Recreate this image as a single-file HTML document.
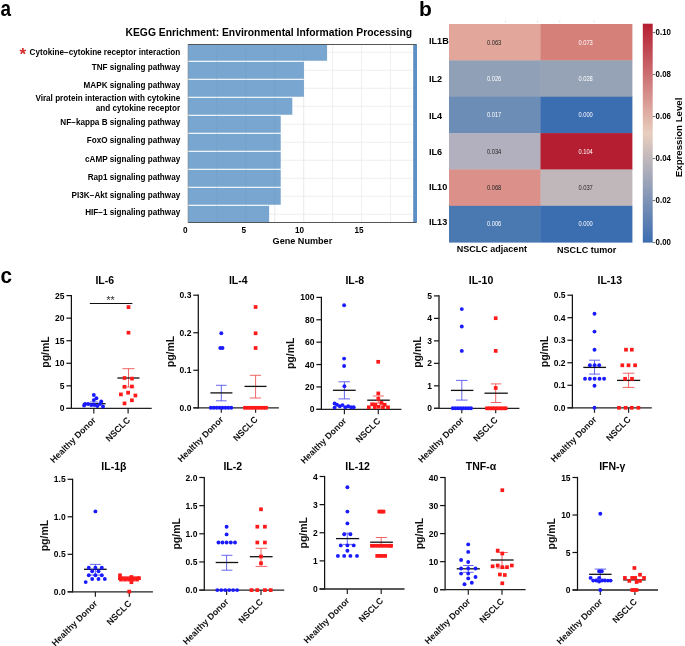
<!DOCTYPE html>
<html><head><meta charset="utf-8"><style>
html,body{margin:0;padding:0;background:#fff;}
svg{display:block;font-family:"Liberation Sans", sans-serif;will-change:transform;}
</style></head><body>
<svg width="685" height="646" viewBox="0 0 685 646">
<rect width="685" height="646" fill="#fff"/>
<text transform="translate(0.6,16) scale(0.86,1)" font-size="22" font-weight="bold">a</text>
<text x="419" y="16" font-size="21" font-weight="bold" text-anchor="start" fill="#000" >b</text>
<text transform="translate(0.5,282.6) scale(0.92,1)" font-size="22.5" font-weight="bold">c</text>
<text x="125.5" y="35.8" font-size="10" font-weight="bold" text-anchor="start" fill="#000" textLength="286.5" lengthAdjust="spacingAndGlyphs">KEGG Enrichment: Environmental Information Processing</text>
<line x1="216.93" y1="44.3" x2="216.93" y2="222.6" stroke="#ebebeb" stroke-width="0.8" />
<line x1="245.86" y1="44.3" x2="245.86" y2="222.6" stroke="#ebebeb" stroke-width="0.8" />
<line x1="274.78999999999996" y1="44.3" x2="274.78999999999996" y2="222.6" stroke="#ebebeb" stroke-width="0.8" />
<line x1="303.72" y1="44.3" x2="303.72" y2="222.6" stroke="#ebebeb" stroke-width="0.8" />
<line x1="332.65" y1="44.3" x2="332.65" y2="222.6" stroke="#ebebeb" stroke-width="0.8" />
<line x1="361.58" y1="44.3" x2="361.58" y2="222.6" stroke="#ebebeb" stroke-width="0.8" />
<line x1="390.51" y1="44.3" x2="390.51" y2="222.6" stroke="#ebebeb" stroke-width="0.8" />
<line x1="188" y1="52.3" x2="416" y2="52.3" stroke="#ebebeb" stroke-width="0.8" />
<line x1="188" y1="70.3" x2="416" y2="70.3" stroke="#ebebeb" stroke-width="0.8" />
<line x1="188" y1="88.3" x2="416" y2="88.3" stroke="#ebebeb" stroke-width="0.8" />
<line x1="188" y1="106.3" x2="416" y2="106.3" stroke="#ebebeb" stroke-width="0.8" />
<line x1="188" y1="124.3" x2="416" y2="124.3" stroke="#ebebeb" stroke-width="0.8" />
<line x1="188" y1="142.3" x2="416" y2="142.3" stroke="#ebebeb" stroke-width="0.8" />
<line x1="188" y1="160.3" x2="416" y2="160.3" stroke="#ebebeb" stroke-width="0.8" />
<line x1="188" y1="178.3" x2="416" y2="178.3" stroke="#ebebeb" stroke-width="0.8" />
<line x1="188" y1="196.3" x2="416" y2="196.3" stroke="#ebebeb" stroke-width="0.8" />
<line x1="188" y1="214.3" x2="416" y2="214.3" stroke="#ebebeb" stroke-width="0.8" />
<rect x="188" y="45.0" width="139.07999999999998" height="15.75" fill="rgb(120,166,208)" />
<rect x="188" y="61.849999999999994" width="115.9" height="16.900000000000006" fill="rgb(120,166,208)" />
<rect x="188" y="79.85" width="115.9" height="16.900000000000006" fill="rgb(120,166,208)" />
<rect x="188" y="97.85" width="104.31" height="16.900000000000006" fill="rgb(120,166,208)" />
<rect x="188" y="115.85" width="92.72" height="16.900000000000006" fill="rgb(120,166,208)" />
<rect x="188" y="133.85000000000002" width="92.72" height="16.899999999999977" fill="rgb(120,166,208)" />
<rect x="188" y="151.85000000000002" width="92.72" height="16.899999999999977" fill="rgb(120,166,208)" />
<rect x="188" y="169.85000000000002" width="92.72" height="16.899999999999977" fill="rgb(120,166,208)" />
<rect x="188" y="187.85000000000002" width="92.72" height="16.899999999999977" fill="rgb(120,166,208)" />
<rect x="188" y="205.85000000000002" width="81.13" height="16.149999999999977" fill="rgb(120,166,208)" />
<line x1="216.93" y1="44.3" x2="216.93" y2="222.6" stroke="rgba(0,0,0,0.035)" stroke-width="0.8" />
<line x1="245.86" y1="44.3" x2="245.86" y2="222.6" stroke="rgba(0,0,0,0.035)" stroke-width="0.8" />
<line x1="274.78999999999996" y1="44.3" x2="274.78999999999996" y2="222.6" stroke="rgba(0,0,0,0.035)" stroke-width="0.8" />
<line x1="303.72" y1="44.3" x2="303.72" y2="222.6" stroke="rgba(0,0,0,0.035)" stroke-width="0.8" />
<rect x="413.2" y="44.3" width="3.8" height="178.3" fill="#5b8fc6" />
<line x1="188" y1="44.5" x2="416.5" y2="44.5" stroke="#555" stroke-width="1" />
<line x1="188" y1="222.5" x2="416.5" y2="222.5" stroke="#555" stroke-width="1" />
<line x1="188" y1="44.3" x2="188" y2="222.6" stroke="#888" stroke-width="0.6" />
<text x="180.2" y="54.7" font-size="8.15" font-weight="bold" text-anchor="end" fill="#000" >Cytokine−cytokine receptor interaction</text>
<text x="180.2" y="69.8" font-size="8.15" font-weight="bold" text-anchor="end" fill="#000" >TNF signaling pathway</text>
<text x="180.2" y="87.6" font-size="8.15" font-weight="bold" text-anchor="end" fill="#000" >MAPK signaling pathway</text>
<text x="180.2" y="101.3" font-size="8.15" font-weight="bold" text-anchor="end" fill="#000" >Viral protein interaction with cytokine</text>
<text x="180.2" y="110.6" font-size="8.15" font-weight="bold" text-anchor="end" fill="#000" >and cytokine receptor</text>
<text x="180.2" y="125.0" font-size="8.15" font-weight="bold" text-anchor="end" fill="#000" >NF−kappa B signaling pathway</text>
<text x="180.2" y="142.6" font-size="8.15" font-weight="bold" text-anchor="end" fill="#000" >FoxO signaling pathway</text>
<text x="180.2" y="162.2" font-size="8.15" font-weight="bold" text-anchor="end" fill="#000" >cAMP signaling pathway</text>
<text x="180.2" y="179.6" font-size="8.15" font-weight="bold" text-anchor="end" fill="#000" >Rap1 signaling pathway</text>
<text x="180.2" y="197.9" font-size="8.15" font-weight="bold" text-anchor="end" fill="#000" >PI3K−Akt signaling pathway</text>
<text x="180.2" y="215.1" font-size="8.15" font-weight="bold" text-anchor="end" fill="#000" >HIF−1 signaling pathway</text>
<text x="22.9" y="59.5" font-size="17" font-weight="bold" text-anchor="middle" fill="#d42a2a" >*</text>
<text x="185.3" y="232.8" font-size="8.2" font-weight="bold" text-anchor="middle" fill="#000" >0</text>
<text x="243.9" y="232.8" font-size="8.2" font-weight="bold" text-anchor="middle" fill="#000" >5</text>
<text x="299.5" y="232.8" font-size="8.2" font-weight="bold" text-anchor="middle" fill="#000" >10</text>
<text x="359" y="232.8" font-size="8.2" font-weight="bold" text-anchor="middle" fill="#000" >15</text>
<text x="302.4" y="244.1" font-size="9.1" font-weight="bold" text-anchor="middle" fill="#000" >Gene Number</text>
<rect x="449.0" y="24.0" width="91.9" height="36.766666666666666" fill="rgb(226,166,154)" />
<text x="494.1" y="44.6" font-size="6.4" text-anchor="middle" fill="#262626" textLength="14.4" lengthAdjust="spacingAndGlyphs">0.063</text>
<rect x="540.5" y="24.0" width="91.9" height="36.766666666666666" fill="rgb(214,128,122)" />
<text x="585.6" y="44.6" font-size="6.4" text-anchor="middle" fill="#ffffff" textLength="14.4" lengthAdjust="spacingAndGlyphs">0.073</text>
<text x="429" y="44.2" font-size="9.1" font-weight="bold" text-anchor="start" fill="#000" >IL1B</text>
<rect x="449.0" y="60.36666666666667" width="91.9" height="36.766666666666666" fill="rgb(143,160,183)" />
<text x="494.1" y="81.0" font-size="6.4" text-anchor="middle" fill="#ffffff" textLength="14.4" lengthAdjust="spacingAndGlyphs">0.026</text>
<rect x="540.5" y="60.36666666666667" width="91.9" height="36.766666666666666" fill="rgb(150,163,183)" />
<text x="585.6" y="81.0" font-size="6.4" text-anchor="middle" fill="#ffffff" textLength="14.4" lengthAdjust="spacingAndGlyphs">0.028</text>
<text x="429" y="81.6" font-size="9.1" font-weight="bold" text-anchor="start" fill="#000" >IL2</text>
<rect x="449.0" y="96.73333333333333" width="91.9" height="36.766666666666666" fill="rgb(108,141,182)" />
<text x="494.1" y="117.3" font-size="6.4" text-anchor="middle" fill="#ffffff" textLength="14.4" lengthAdjust="spacingAndGlyphs">0.017</text>
<rect x="540.5" y="96.73333333333333" width="91.9" height="36.766666666666666" fill="rgb(59,109,177)" />
<text x="585.6" y="117.3" font-size="6.4" text-anchor="middle" fill="#ffffff" textLength="14.4" lengthAdjust="spacingAndGlyphs">0.000</text>
<text x="429" y="118.8" font-size="9.1" font-weight="bold" text-anchor="start" fill="#000" >IL4</text>
<rect x="449.0" y="133.1" width="91.9" height="36.766666666666666" fill="rgb(178,176,190)" />
<text x="494.1" y="153.7" font-size="6.4" text-anchor="middle" fill="#262626" textLength="14.4" lengthAdjust="spacingAndGlyphs">0.034</text>
<rect x="540.5" y="133.1" width="91.9" height="36.766666666666666" fill="rgb(180,30,48)" />
<text x="585.6" y="153.7" font-size="6.4" text-anchor="middle" fill="#ffffff" textLength="14.4" lengthAdjust="spacingAndGlyphs">0.104</text>
<text x="429" y="155.1" font-size="9.1" font-weight="bold" text-anchor="start" fill="#000" >IL6</text>
<rect x="449.0" y="169.46666666666667" width="91.9" height="36.766666666666666" fill="rgb(219,145,138)" />
<text x="494.1" y="190.1" font-size="6.4" text-anchor="middle" fill="#262626" textLength="14.4" lengthAdjust="spacingAndGlyphs">0.068</text>
<rect x="540.5" y="169.46666666666667" width="91.9" height="36.766666666666666" fill="rgb(192,183,187)" />
<text x="585.6" y="190.1" font-size="6.4" text-anchor="middle" fill="#262626" textLength="14.4" lengthAdjust="spacingAndGlyphs">0.037</text>
<text x="429" y="189.7" font-size="9.1" font-weight="bold" text-anchor="start" fill="#000" >IL10</text>
<rect x="449.0" y="205.83333333333334" width="91.9" height="36.766666666666666" fill="rgb(74,121,178)" />
<text x="494.1" y="226.4" font-size="6.4" text-anchor="middle" fill="#ffffff" textLength="14.4" lengthAdjust="spacingAndGlyphs">0.006</text>
<rect x="540.5" y="205.83333333333334" width="91.9" height="36.766666666666666" fill="rgb(59,109,177)" />
<text x="585.6" y="226.4" font-size="6.4" text-anchor="middle" fill="#ffffff" textLength="14.4" lengthAdjust="spacingAndGlyphs">0.000</text>
<text x="429" y="225.0" font-size="9.1" font-weight="bold" text-anchor="start" fill="#000" >IL13</text>
<text x="456.8" y="251.8" font-size="9.2" font-weight="bold" textLength="70.1" lengthAdjust="spacingAndGlyphs">NSCLC adjacent</text>
<text x="557.1" y="252.9" font-size="9.2" font-weight="bold" textLength="59.1" lengthAdjust="spacingAndGlyphs">NSCLC tumor</text>
<line x1="505.5" y1="20.8" x2="505.5" y2="22.2" stroke="#c8c8c8" stroke-width="0.7" />
<line x1="537.5" y1="20.8" x2="537.5" y2="22.2" stroke="#c8c8c8" stroke-width="0.7" />
<line x1="559.8" y1="20.8" x2="559.8" y2="22.2" stroke="#c8c8c8" stroke-width="0.7" />
<line x1="594" y1="20.8" x2="594" y2="22.2" stroke="#c8c8c8" stroke-width="0.7" />
<defs><linearGradient id="cb" x1="0" y1="1" x2="0" y2="0">
<stop offset="0.0000" stop-color="rgb(59,109,177)"/>
<stop offset="0.1248" stop-color="rgb(102,133,180)"/>
<stop offset="0.2495" stop-color="rgb(146,158,184)"/>
<stop offset="0.3743" stop-color="rgb(189,182,187)"/>
<stop offset="0.4990" stop-color="rgb(232,206,190)"/>
<stop offset="0.6238" stop-color="rgb(219,162,154)"/>
<stop offset="0.7486" stop-color="rgb(206,118,119)"/>
<stop offset="0.8733" stop-color="rgb(193,74,84)"/>
<stop offset="1.0000" stop-color="rgb(180,30,48)"/>
</linearGradient></defs>
<rect x="642.8" y="23.7" width="9.900000000000091" height="218.9" fill="url(#cb)" />
<line x1="652.7" y1="242.6" x2="655.2" y2="242.6" stroke="#333" stroke-width="0.7" />
<text x="655.6" y="245.1" font-size="8.2" font-weight="bold" textLength="15.3" lengthAdjust="spacingAndGlyphs">0.00</text>
<line x1="652.7" y1="200.6" x2="655.2" y2="200.6" stroke="#333" stroke-width="0.7" />
<text x="655.6" y="203.1" font-size="8.2" font-weight="bold" textLength="15.3" lengthAdjust="spacingAndGlyphs">0.02</text>
<line x1="652.7" y1="158.6" x2="655.2" y2="158.6" stroke="#333" stroke-width="0.7" />
<text x="655.6" y="161.1" font-size="8.2" font-weight="bold" textLength="15.3" lengthAdjust="spacingAndGlyphs">0.04</text>
<line x1="652.7" y1="116.6" x2="655.2" y2="116.6" stroke="#333" stroke-width="0.7" />
<text x="655.6" y="119.1" font-size="8.2" font-weight="bold" textLength="15.3" lengthAdjust="spacingAndGlyphs">0.06</text>
<line x1="652.7" y1="74.6" x2="655.2" y2="74.6" stroke="#333" stroke-width="0.7" />
<text x="655.6" y="77.1" font-size="8.2" font-weight="bold" textLength="15.3" lengthAdjust="spacingAndGlyphs">0.08</text>
<line x1="652.7" y1="32.599999999999994" x2="655.2" y2="32.599999999999994" stroke="#333" stroke-width="0.7" />
<text x="655.6" y="35.1" font-size="8.2" font-weight="bold" textLength="15.3" lengthAdjust="spacingAndGlyphs">0.10</text>
<text transform="translate(682.3,137.4) rotate(-90)" font-size="9.3" font-weight="bold" text-anchor="middle" textLength="79.6" lengthAdjust="spacingAndGlyphs">Expression Level</text>
<text x="104.8" y="284.3" font-size="10.5" font-weight="bold" text-anchor="middle" fill="#000" >IL-6</text>
<line x1="66.4" y1="295.6" x2="71.4" y2="295.6" stroke="#111" stroke-width="1.2" />
<text x="64.5" y="298.6" font-size="8.5" font-weight="bold" text-anchor="end" fill="#000" >25</text>
<line x1="66.4" y1="318.16" x2="71.4" y2="318.16" stroke="#111" stroke-width="1.2" />
<text x="64.5" y="321.16" font-size="8.5" font-weight="bold" text-anchor="end" fill="#000" >20</text>
<line x1="66.4" y1="340.72" x2="71.4" y2="340.72" stroke="#111" stroke-width="1.2" />
<text x="64.5" y="343.72" font-size="8.5" font-weight="bold" text-anchor="end" fill="#000" >15</text>
<line x1="66.4" y1="363.28" x2="71.4" y2="363.28" stroke="#111" stroke-width="1.2" />
<text x="64.5" y="366.28" font-size="8.5" font-weight="bold" text-anchor="end" fill="#000" >10</text>
<line x1="66.4" y1="385.84" x2="71.4" y2="385.84" stroke="#111" stroke-width="1.2" />
<text x="64.5" y="388.84" font-size="8.5" font-weight="bold" text-anchor="end" fill="#000" >5</text>
<line x1="66.4" y1="408.4" x2="71.4" y2="408.4" stroke="#111" stroke-width="1.2" />
<text x="64.5" y="411.4" font-size="8.5" font-weight="bold" text-anchor="end" fill="#000" >0</text>
<line x1="71.4" y1="295.0" x2="71.4" y2="409.0" stroke="#111" stroke-width="1.25" />
<line x1="66.4" y1="408.4" x2="151.7" y2="408.4" stroke="#222" stroke-width="1.3" />
<line x1="93.8" y1="408.4" x2="93.8" y2="413.4" stroke="#222" stroke-width="1.2" />
<line x1="128.1" y1="408.4" x2="128.1" y2="413.4" stroke="#222" stroke-width="1.2" />
<text transform="translate(49.0,352.0) rotate(-90)" font-size="10.5" font-weight="bold" text-anchor="middle" fill="#111">pg/mL</text>
<text transform="translate(96.39999999999999,420.7) rotate(-45)" font-size="8.85" font-weight="bold" text-anchor="end" fill="#111">Healthy Donor</text>
<text transform="translate(130.7,420.7) rotate(-45)" font-size="8.85" font-weight="bold" text-anchor="end" fill="#111">NSCLC</text>
<line x1="93.8" y1="402" x2="93.8" y2="405" stroke="#5555ee" stroke-width="0.9" />
<line x1="90" y1="402" x2="98" y2="402" stroke="#5555ee" stroke-width="0.9" />
<line x1="90" y1="405" x2="98" y2="405" stroke="#5555ee" stroke-width="0.9" />
<line x1="128.5" y1="368.7" x2="128.5" y2="387" stroke="#ee5555" stroke-width="0.9" />
<line x1="122.4" y1="368.7" x2="134.5" y2="368.7" stroke="#ee5555" stroke-width="0.9" />
<line x1="122.4" y1="387" x2="134.5" y2="387" stroke="#ee5555" stroke-width="0.9" />
<line x1="82.9" y1="403.7" x2="105.6" y2="403.7" stroke="#111" stroke-width="1.3" />
<line x1="117.4" y1="378" x2="139.5" y2="378" stroke="#111" stroke-width="1.3" />
<circle cx="93.8" cy="395" r="1.95" fill="#1a1aff"/>
<circle cx="96.4" cy="398.3" r="1.95" fill="#1a1aff"/>
<circle cx="93.8" cy="400.1" r="1.95" fill="#1a1aff"/>
<circle cx="101.3" cy="401.4" r="1.95" fill="#1a1aff"/>
<circle cx="84.1" cy="405.5" r="1.95" fill="#1a1aff"/>
<circle cx="85.2" cy="404" r="1.95" fill="#1a1aff"/>
<circle cx="88.2" cy="404" r="1.95" fill="#1a1aff"/>
<circle cx="91.3" cy="405" r="1.95" fill="#1a1aff"/>
<circle cx="94.4" cy="405" r="1.95" fill="#1a1aff"/>
<circle cx="97.4" cy="406" r="1.95" fill="#1a1aff"/>
<circle cx="100" cy="404" r="1.95" fill="#1a1aff"/>
<circle cx="103" cy="406.5" r="1.95" fill="#1a1aff"/>
<rect x="126.65" y="305.25" width="3.7" height="3.7" fill="#ff1a1a" />
<rect x="126.65" y="330.84999999999997" width="3.7" height="3.7" fill="#ff1a1a" />
<rect x="122.65" y="376.15" width="3.7" height="3.7" fill="#ff1a1a" />
<rect x="130.15" y="376.75" width="3.7" height="3.7" fill="#ff1a1a" />
<rect x="122.65" y="384.95" width="3.7" height="3.7" fill="#ff1a1a" />
<rect x="130.05" y="384.65" width="3.7" height="3.7" fill="#ff1a1a" />
<rect x="119.05000000000001" y="392.54999999999995" width="3.7" height="3.7" fill="#ff1a1a" />
<rect x="126.25" y="390.84999999999997" width="3.7" height="3.7" fill="#ff1a1a" />
<rect x="133.55" y="393.65" width="3.7" height="3.7" fill="#ff1a1a" />
<rect x="130.05" y="398.45" width="3.7" height="3.7" fill="#ff1a1a" />
<rect x="122.65" y="401.54999999999995" width="3.7" height="3.7" fill="#ff1a1a" />
<text x="238.3" y="284.3" font-size="10.5" font-weight="bold" text-anchor="middle" fill="#000" >IL-4</text>
<line x1="193.3" y1="295.2" x2="198.3" y2="295.2" stroke="#111" stroke-width="1.2" />
<text x="191.4" y="298.2" font-size="8.5" font-weight="bold" text-anchor="end" fill="#000" >0.3</text>
<line x1="193.3" y1="332.73333333333335" x2="198.3" y2="332.73333333333335" stroke="#111" stroke-width="1.2" />
<text x="191.4" y="335.73333333333335" font-size="8.5" font-weight="bold" text-anchor="end" fill="#000" >0.2</text>
<line x1="193.3" y1="370.26666666666665" x2="198.3" y2="370.26666666666665" stroke="#111" stroke-width="1.2" />
<text x="191.4" y="373.26666666666665" font-size="8.5" font-weight="bold" text-anchor="end" fill="#000" >0.1</text>
<line x1="193.3" y1="407.8" x2="198.3" y2="407.8" stroke="#111" stroke-width="1.2" />
<text x="191.4" y="410.8" font-size="8.5" font-weight="bold" text-anchor="end" fill="#000" >0.0</text>
<line x1="198.3" y1="294.59999999999997" x2="198.3" y2="408.40000000000003" stroke="#111" stroke-width="1.25" />
<line x1="193.3" y1="407.8" x2="278.9" y2="407.8" stroke="#222" stroke-width="1.3" />
<line x1="221.3" y1="407.8" x2="221.3" y2="412.8" stroke="#222" stroke-width="1.2" />
<line x1="255.6" y1="407.8" x2="255.6" y2="412.8" stroke="#222" stroke-width="1.2" />
<text transform="translate(173.6,351.5) rotate(-90)" font-size="10.5" font-weight="bold" text-anchor="middle" fill="#111">pg/mL</text>
<text transform="translate(223.9,420.1) rotate(-45)" font-size="8.85" font-weight="bold" text-anchor="end" fill="#111">Healthy Donor</text>
<text transform="translate(258.2,420.1) rotate(-45)" font-size="8.85" font-weight="bold" text-anchor="end" fill="#111">NSCLC</text>
<line x1="221.3" y1="385.3" x2="221.3" y2="400.8" stroke="#5555ee" stroke-width="0.9" />
<line x1="216" y1="385.3" x2="226.6" y2="385.3" stroke="#5555ee" stroke-width="0.9" />
<line x1="216" y1="400.8" x2="226.6" y2="400.8" stroke="#5555ee" stroke-width="0.9" />
<line x1="255.6" y1="375.3" x2="255.6" y2="398" stroke="#ee5555" stroke-width="0.9" />
<line x1="249.8" y1="375.3" x2="261" y2="375.3" stroke="#ee5555" stroke-width="0.9" />
<line x1="249.8" y1="398" x2="261" y2="398" stroke="#ee5555" stroke-width="0.9" />
<line x1="210.4" y1="392.9" x2="232.4" y2="392.9" stroke="#111" stroke-width="1.3" />
<line x1="244.5" y1="386.4" x2="266.5" y2="386.4" stroke="#111" stroke-width="1.3" />
<circle cx="221.3" cy="333.3" r="1.95" fill="#1a1aff"/>
<circle cx="220.3" cy="348" r="1.95" fill="#1a1aff"/>
<circle cx="222.5" cy="348" r="1.95" fill="#1a1aff"/>
<circle cx="210.8" cy="407.8" r="1.95" fill="#1a1aff"/>
<circle cx="213.73000000000002" cy="407.8" r="1.95" fill="#1a1aff"/>
<circle cx="216.66000000000003" cy="407.8" r="1.95" fill="#1a1aff"/>
<circle cx="219.59" cy="407.8" r="1.95" fill="#1a1aff"/>
<circle cx="222.52" cy="407.8" r="1.95" fill="#1a1aff"/>
<circle cx="225.45000000000002" cy="407.8" r="1.95" fill="#1a1aff"/>
<circle cx="228.38000000000002" cy="407.8" r="1.95" fill="#1a1aff"/>
<circle cx="231.31" cy="407.8" r="1.95" fill="#1a1aff"/>
<rect x="253.75" y="305.15" width="3.7" height="3.7" fill="#ff1a1a" />
<rect x="253.75" y="331.45" width="3.7" height="3.7" fill="#ff1a1a" />
<rect x="253.75" y="346.15" width="3.7" height="3.7" fill="#ff1a1a" />
<rect x="243.15" y="405.95" width="3.7" height="3.7" fill="#ff1a1a" />
<rect x="246.15" y="405.95" width="3.7" height="3.7" fill="#ff1a1a" />
<rect x="249.15" y="405.95" width="3.7" height="3.7" fill="#ff1a1a" />
<rect x="252.15" y="405.95" width="3.7" height="3.7" fill="#ff1a1a" />
<rect x="255.15" y="405.95" width="3.7" height="3.7" fill="#ff1a1a" />
<rect x="258.15" y="405.95" width="3.7" height="3.7" fill="#ff1a1a" />
<rect x="261.15" y="405.95" width="3.7" height="3.7" fill="#ff1a1a" />
<rect x="264.15" y="405.95" width="3.7" height="3.7" fill="#ff1a1a" />
<text x="354.8" y="284.3" font-size="10.5" font-weight="bold" text-anchor="middle" fill="#000" >IL-8</text>
<line x1="316.4" y1="297.4" x2="321.4" y2="297.4" stroke="#111" stroke-width="1.2" />
<text x="314.5" y="300.4" font-size="8.5" font-weight="bold" text-anchor="end" fill="#000" >100</text>
<line x1="316.4" y1="319.78" x2="321.4" y2="319.78" stroke="#111" stroke-width="1.2" />
<text x="314.5" y="322.78" font-size="8.5" font-weight="bold" text-anchor="end" fill="#000" >80</text>
<line x1="316.4" y1="342.15999999999997" x2="321.4" y2="342.15999999999997" stroke="#111" stroke-width="1.2" />
<text x="314.5" y="345.15999999999997" font-size="8.5" font-weight="bold" text-anchor="end" fill="#000" >60</text>
<line x1="316.4" y1="364.53999999999996" x2="321.4" y2="364.53999999999996" stroke="#111" stroke-width="1.2" />
<text x="314.5" y="367.53999999999996" font-size="8.5" font-weight="bold" text-anchor="end" fill="#000" >40</text>
<line x1="316.4" y1="386.92" x2="321.4" y2="386.92" stroke="#111" stroke-width="1.2" />
<text x="314.5" y="389.92" font-size="8.5" font-weight="bold" text-anchor="end" fill="#000" >20</text>
<line x1="316.4" y1="409.3" x2="321.4" y2="409.3" stroke="#111" stroke-width="1.2" />
<text x="314.5" y="412.3" font-size="8.5" font-weight="bold" text-anchor="end" fill="#000" >0</text>
<line x1="321.4" y1="296.79999999999995" x2="321.4" y2="409.90000000000003" stroke="#111" stroke-width="1.25" />
<line x1="316.4" y1="409.3" x2="401.4" y2="409.3" stroke="#222" stroke-width="1.3" />
<line x1="344.4" y1="409.3" x2="344.4" y2="414.3" stroke="#222" stroke-width="1.2" />
<line x1="378.3" y1="409.3" x2="378.3" y2="414.3" stroke="#222" stroke-width="1.2" />
<text transform="translate(294.3,353.35) rotate(-90)" font-size="10.5" font-weight="bold" text-anchor="middle" fill="#111">pg/mL</text>
<text transform="translate(347.0,421.6) rotate(-45)" font-size="8.85" font-weight="bold" text-anchor="end" fill="#111">Healthy Donor</text>
<text transform="translate(380.90000000000003,421.6) rotate(-45)" font-size="8.85" font-weight="bold" text-anchor="end" fill="#111">NSCLC</text>
<line x1="344.4" y1="381.8" x2="344.4" y2="398.9" stroke="#5555ee" stroke-width="0.9" />
<line x1="338.4" y1="381.8" x2="350" y2="381.8" stroke="#5555ee" stroke-width="0.9" />
<line x1="338.4" y1="398.9" x2="350" y2="398.9" stroke="#5555ee" stroke-width="0.9" />
<line x1="378.3" y1="396" x2="378.3" y2="403" stroke="#ee5555" stroke-width="0.9" />
<line x1="372.8" y1="396" x2="383.8" y2="396" stroke="#ee5555" stroke-width="0.9" />
<line x1="372.8" y1="403" x2="383.8" y2="403" stroke="#ee5555" stroke-width="0.9" />
<line x1="332.9" y1="390.3" x2="355.7" y2="390.3" stroke="#111" stroke-width="1.3" />
<line x1="367.2" y1="400.2" x2="389.8" y2="400.2" stroke="#111" stroke-width="1.3" />
<circle cx="344.1" cy="305.2" r="1.95" fill="#1a1aff"/>
<circle cx="344.1" cy="358.6" r="1.95" fill="#1a1aff"/>
<circle cx="344.1" cy="366" r="1.95" fill="#1a1aff"/>
<circle cx="344.4" cy="386.3" r="1.95" fill="#1a1aff"/>
<circle cx="334.6" cy="403.5" r="1.95" fill="#1a1aff"/>
<circle cx="337" cy="404.8" r="1.95" fill="#1a1aff"/>
<circle cx="339.8" cy="406.2" r="1.95" fill="#1a1aff"/>
<circle cx="342.5" cy="405.1" r="1.95" fill="#1a1aff"/>
<circle cx="345.3" cy="407.3" r="1.95" fill="#1a1aff"/>
<circle cx="348.2" cy="406.2" r="1.95" fill="#1a1aff"/>
<circle cx="351.1" cy="407.3" r="1.95" fill="#1a1aff"/>
<circle cx="353.7" cy="407.3" r="1.95" fill="#1a1aff"/>
<circle cx="334.6" cy="407.6" r="1.95" fill="#1a1aff"/>
<rect x="376.34999999999997" y="359.95" width="3.7" height="3.7" fill="#ff1a1a" />
<rect x="376.45" y="391.54999999999995" width="3.7" height="3.7" fill="#ff1a1a" />
<rect x="376.45" y="397.04999999999995" width="3.7" height="3.7" fill="#ff1a1a" />
<rect x="370.25" y="402.45" width="3.7" height="3.7" fill="#ff1a1a" />
<rect x="373.54999999999995" y="402.95" width="3.7" height="3.7" fill="#ff1a1a" />
<rect x="379.54999999999995" y="401.04999999999995" width="3.7" height="3.7" fill="#ff1a1a" />
<rect x="382.84999999999997" y="402.95" width="3.7" height="3.7" fill="#ff1a1a" />
<rect x="366.95" y="405.45" width="3.7" height="3.7" fill="#ff1a1a" />
<rect x="376.84999999999997" y="404.95" width="3.7" height="3.7" fill="#ff1a1a" />
<rect x="386.15" y="405.45" width="3.7" height="3.7" fill="#ff1a1a" />
<rect x="372.95" y="405.45" width="3.7" height="3.7" fill="#ff1a1a" />
<rect x="381.15" y="405.45" width="3.7" height="3.7" fill="#ff1a1a" />
<text x="481" y="284.3" font-size="10.5" font-weight="bold" text-anchor="middle" fill="#000" >IL-10</text>
<line x1="434" y1="295.9" x2="439" y2="295.9" stroke="#111" stroke-width="1.2" />
<text x="432.1" y="298.9" font-size="8.5" font-weight="bold" text-anchor="end" fill="#000" >5</text>
<line x1="434" y1="318.38" x2="439" y2="318.38" stroke="#111" stroke-width="1.2" />
<text x="432.1" y="321.38" font-size="8.5" font-weight="bold" text-anchor="end" fill="#000" >4</text>
<line x1="434" y1="340.86" x2="439" y2="340.86" stroke="#111" stroke-width="1.2" />
<text x="432.1" y="343.86" font-size="8.5" font-weight="bold" text-anchor="end" fill="#000" >3</text>
<line x1="434" y1="363.34000000000003" x2="439" y2="363.34000000000003" stroke="#111" stroke-width="1.2" />
<text x="432.1" y="366.34000000000003" font-size="8.5" font-weight="bold" text-anchor="end" fill="#000" >2</text>
<line x1="434" y1="385.82" x2="439" y2="385.82" stroke="#111" stroke-width="1.2" />
<text x="432.1" y="388.82" font-size="8.5" font-weight="bold" text-anchor="end" fill="#000" >1</text>
<line x1="434" y1="408.3" x2="439" y2="408.3" stroke="#111" stroke-width="1.2" />
<text x="432.1" y="411.3" font-size="8.5" font-weight="bold" text-anchor="end" fill="#000" >0</text>
<line x1="439" y1="295.29999999999995" x2="439" y2="408.90000000000003" stroke="#111" stroke-width="1.25" />
<line x1="434" y1="408.3" x2="519.4" y2="408.3" stroke="#222" stroke-width="1.3" />
<line x1="461.8" y1="408.3" x2="461.8" y2="413.3" stroke="#222" stroke-width="1.2" />
<line x1="495.7" y1="408.3" x2="495.7" y2="413.3" stroke="#222" stroke-width="1.2" />
<text transform="translate(421.4,352.1) rotate(-90)" font-size="10.5" font-weight="bold" text-anchor="middle" fill="#111">pg/mL</text>
<text transform="translate(464.40000000000003,420.6) rotate(-45)" font-size="8.85" font-weight="bold" text-anchor="end" fill="#111">Healthy Donor</text>
<text transform="translate(498.3,420.6) rotate(-45)" font-size="8.85" font-weight="bold" text-anchor="end" fill="#111">NSCLC</text>
<line x1="461.8" y1="380.4" x2="461.8" y2="400.1" stroke="#5555ee" stroke-width="0.9" />
<line x1="456" y1="380.4" x2="467.6" y2="380.4" stroke="#5555ee" stroke-width="0.9" />
<line x1="456" y1="400.1" x2="467.6" y2="400.1" stroke="#5555ee" stroke-width="0.9" />
<line x1="495.7" y1="383.9" x2="495.7" y2="402.5" stroke="#ee5555" stroke-width="0.9" />
<line x1="490.8" y1="383.9" x2="501.3" y2="383.9" stroke="#ee5555" stroke-width="0.9" />
<line x1="490.8" y1="402.5" x2="501.3" y2="402.5" stroke="#ee5555" stroke-width="0.9" />
<line x1="450.9" y1="390.4" x2="473.4" y2="390.4" stroke="#111" stroke-width="1.3" />
<line x1="484.5" y1="393.2" x2="507.8" y2="393.2" stroke="#111" stroke-width="1.3" />
<circle cx="461.8" cy="309.1" r="1.95" fill="#1a1aff"/>
<circle cx="461.8" cy="326.5" r="1.95" fill="#1a1aff"/>
<circle cx="461.8" cy="350.9" r="1.95" fill="#1a1aff"/>
<circle cx="452.8" cy="408.3" r="1.95" fill="#1a1aff"/>
<circle cx="455.40000000000003" cy="408.3" r="1.95" fill="#1a1aff"/>
<circle cx="458.0" cy="408.3" r="1.95" fill="#1a1aff"/>
<circle cx="460.6" cy="408.3" r="1.95" fill="#1a1aff"/>
<circle cx="463.2" cy="408.3" r="1.95" fill="#1a1aff"/>
<circle cx="465.8" cy="408.3" r="1.95" fill="#1a1aff"/>
<circle cx="468.40000000000003" cy="408.3" r="1.95" fill="#1a1aff"/>
<circle cx="471.0" cy="408.3" r="1.95" fill="#1a1aff"/>
<rect x="493.84999999999997" y="316.34999999999997" width="3.7" height="3.7" fill="#ff1a1a" />
<rect x="493.84999999999997" y="349.04999999999995" width="3.7" height="3.7" fill="#ff1a1a" />
<rect x="493.84999999999997" y="386.15" width="3.7" height="3.7" fill="#ff1a1a" />
<rect x="485.15" y="406.45" width="3.7" height="3.7" fill="#ff1a1a" />
<rect x="487.81" y="406.45" width="3.7" height="3.7" fill="#ff1a1a" />
<rect x="490.46999999999997" y="406.45" width="3.7" height="3.7" fill="#ff1a1a" />
<rect x="493.13" y="406.45" width="3.7" height="3.7" fill="#ff1a1a" />
<rect x="495.78999999999996" y="406.45" width="3.7" height="3.7" fill="#ff1a1a" />
<rect x="498.45" y="406.45" width="3.7" height="3.7" fill="#ff1a1a" />
<rect x="501.10999999999996" y="406.45" width="3.7" height="3.7" fill="#ff1a1a" />
<rect x="503.77" y="406.45" width="3.7" height="3.7" fill="#ff1a1a" />
<text x="609.8" y="284.3" font-size="10.5" font-weight="bold" text-anchor="middle" fill="#000" >IL-13</text>
<line x1="567.4" y1="295.2" x2="572.4" y2="295.2" stroke="#111" stroke-width="1.2" />
<text x="565.5" y="298.2" font-size="8.5" font-weight="bold" text-anchor="end" fill="#000" >0.5</text>
<line x1="567.4" y1="317.71999999999997" x2="572.4" y2="317.71999999999997" stroke="#111" stroke-width="1.2" />
<text x="565.5" y="320.71999999999997" font-size="8.5" font-weight="bold" text-anchor="end" fill="#000" >0.4</text>
<line x1="567.4" y1="340.24" x2="572.4" y2="340.24" stroke="#111" stroke-width="1.2" />
<text x="565.5" y="343.24" font-size="8.5" font-weight="bold" text-anchor="end" fill="#000" >0.3</text>
<line x1="567.4" y1="362.76" x2="572.4" y2="362.76" stroke="#111" stroke-width="1.2" />
<text x="565.5" y="365.76" font-size="8.5" font-weight="bold" text-anchor="end" fill="#000" >0.2</text>
<line x1="567.4" y1="385.28" x2="572.4" y2="385.28" stroke="#111" stroke-width="1.2" />
<text x="565.5" y="388.28" font-size="8.5" font-weight="bold" text-anchor="end" fill="#000" >0.1</text>
<line x1="567.4" y1="407.8" x2="572.4" y2="407.8" stroke="#111" stroke-width="1.2" />
<text x="565.5" y="410.8" font-size="8.5" font-weight="bold" text-anchor="end" fill="#000" >0.0</text>
<line x1="572.4" y1="294.59999999999997" x2="572.4" y2="408.40000000000003" stroke="#111" stroke-width="1.25" />
<line x1="567.4" y1="407.8" x2="651.8" y2="407.8" stroke="#222" stroke-width="1.3" />
<line x1="594.5" y1="407.8" x2="594.5" y2="412.8" stroke="#222" stroke-width="1.2" />
<line x1="628.6" y1="407.8" x2="628.6" y2="412.8" stroke="#222" stroke-width="1.2" />
<text transform="translate(547.7,351.5) rotate(-90)" font-size="10.5" font-weight="bold" text-anchor="middle" fill="#111">pg/mL</text>
<text transform="translate(597.1,420.1) rotate(-45)" font-size="8.85" font-weight="bold" text-anchor="end" fill="#111">Healthy Donor</text>
<text transform="translate(631.2,420.1) rotate(-45)" font-size="8.85" font-weight="bold" text-anchor="end" fill="#111">NSCLC</text>
<line x1="594.5" y1="360.2" x2="594.5" y2="374.1" stroke="#5555ee" stroke-width="0.9" />
<line x1="589" y1="360.2" x2="600" y2="360.2" stroke="#5555ee" stroke-width="0.9" />
<line x1="589" y1="374.1" x2="600" y2="374.1" stroke="#5555ee" stroke-width="0.9" />
<line x1="628.6" y1="373.2" x2="628.6" y2="387.4" stroke="#ee5555" stroke-width="0.9" />
<line x1="622.8" y1="373.2" x2="634.4" y2="373.2" stroke="#ee5555" stroke-width="0.9" />
<line x1="622.8" y1="387.4" x2="634.4" y2="387.4" stroke="#ee5555" stroke-width="0.9" />
<line x1="583.3" y1="367.4" x2="606" y2="367.4" stroke="#111" stroke-width="1.3" />
<line x1="617" y1="380.4" x2="640.2" y2="380.4" stroke="#111" stroke-width="1.3" />
<circle cx="594.5" cy="313.8" r="1.95" fill="#1a1aff"/>
<circle cx="594.5" cy="331.6" r="1.95" fill="#1a1aff"/>
<circle cx="594.5" cy="349.7" r="1.95" fill="#1a1aff"/>
<circle cx="589.9" cy="365.3" r="1.95" fill="#1a1aff"/>
<circle cx="594.6" cy="365.3" r="1.95" fill="#1a1aff"/>
<circle cx="599.2" cy="365.3" r="1.95" fill="#1a1aff"/>
<circle cx="585" cy="378.8" r="1.95" fill="#1a1aff"/>
<circle cx="589.9" cy="378.8" r="1.95" fill="#1a1aff"/>
<circle cx="594.6" cy="378.8" r="1.95" fill="#1a1aff"/>
<circle cx="599.5" cy="378.8" r="1.95" fill="#1a1aff"/>
<circle cx="604.1" cy="378.8" r="1.95" fill="#1a1aff"/>
<circle cx="594.5" cy="385.7" r="1.95" fill="#1a1aff"/>
<circle cx="594.5" cy="407.8" r="1.95" fill="#1a1aff"/>
<rect x="624.15" y="347.84999999999997" width="3.7" height="3.7" fill="#ff1a1a" />
<rect x="629.9499999999999" y="347.84999999999997" width="3.7" height="3.7" fill="#ff1a1a" />
<rect x="620.4499999999999" y="363.45" width="3.7" height="3.7" fill="#ff1a1a" />
<rect x="626.65" y="363.45" width="3.7" height="3.7" fill="#ff1a1a" />
<rect x="633.25" y="363.45" width="3.7" height="3.7" fill="#ff1a1a" />
<rect x="623.25" y="376.95" width="3.7" height="3.7" fill="#ff1a1a" />
<rect x="630.15" y="376.95" width="3.7" height="3.7" fill="#ff1a1a" />
<rect x="617.15" y="405.95" width="3.7" height="3.7" fill="#ff1a1a" />
<rect x="623.75" y="405.95" width="3.7" height="3.7" fill="#ff1a1a" />
<rect x="629.9499999999999" y="405.95" width="3.7" height="3.7" fill="#ff1a1a" />
<rect x="636.55" y="405.95" width="3.7" height="3.7" fill="#ff1a1a" />
<text x="113.9" y="469.6" font-size="10.5" font-weight="bold" text-anchor="middle" fill="#000" >IL-1β</text>
<line x1="67.6" y1="479.3" x2="72.6" y2="479.3" stroke="#111" stroke-width="1.2" />
<text x="65.69999999999999" y="482.3" font-size="8.5" font-weight="bold" text-anchor="end" fill="#000" >1.5</text>
<line x1="67.6" y1="516.8" x2="72.6" y2="516.8" stroke="#111" stroke-width="1.2" />
<text x="65.69999999999999" y="519.8" font-size="8.5" font-weight="bold" text-anchor="end" fill="#000" >1.0</text>
<line x1="67.6" y1="554.3" x2="72.6" y2="554.3" stroke="#111" stroke-width="1.2" />
<text x="65.69999999999999" y="557.3" font-size="8.5" font-weight="bold" text-anchor="end" fill="#000" >0.5</text>
<line x1="67.6" y1="591.8" x2="72.6" y2="591.8" stroke="#111" stroke-width="1.2" />
<text x="65.69999999999999" y="594.8" font-size="8.5" font-weight="bold" text-anchor="end" fill="#000" >0.0</text>
<line x1="72.6" y1="478.7" x2="72.6" y2="592.4" stroke="#111" stroke-width="1.25" />
<line x1="67.6" y1="591.8" x2="152.9" y2="591.8" stroke="#222" stroke-width="1.3" />
<line x1="95.4" y1="591.8" x2="95.4" y2="596.8" stroke="#222" stroke-width="1.2" />
<line x1="129.3" y1="591.8" x2="129.3" y2="596.8" stroke="#222" stroke-width="1.2" />
<text transform="translate(47.9,535.55) rotate(-90)" font-size="10.5" font-weight="bold" text-anchor="middle" fill="#111">pg/mL</text>
<text transform="translate(98.0,604.0999999999999) rotate(-45)" font-size="8.85" font-weight="bold" text-anchor="end" fill="#111">Healthy Donor</text>
<text transform="translate(131.9,604.0999999999999) rotate(-45)" font-size="8.85" font-weight="bold" text-anchor="end" fill="#111">NSCLC</text>
<line x1="95.4" y1="564.4" x2="95.4" y2="575" stroke="#5555ee" stroke-width="0.9" />
<line x1="89.8" y1="564.4" x2="100.8" y2="564.4" stroke="#5555ee" stroke-width="0.9" />
<line x1="89.8" y1="575" x2="100.8" y2="575" stroke="#5555ee" stroke-width="0.9" />
<line x1="84" y1="569.3" x2="106.7" y2="569.3" stroke="#111" stroke-width="1.3" />
<line x1="118" y1="578.8" x2="140" y2="578.8" stroke="#111" stroke-width="1.3" />
<circle cx="95.4" cy="511.4" r="1.95" fill="#1a1aff"/>
<circle cx="88.8" cy="567.8" r="1.95" fill="#1a1aff"/>
<circle cx="95.4" cy="567.8" r="1.95" fill="#1a1aff"/>
<circle cx="101.8" cy="567.8" r="1.95" fill="#1a1aff"/>
<circle cx="92.2" cy="571.3" r="1.95" fill="#1a1aff"/>
<circle cx="98.5" cy="571.3" r="1.95" fill="#1a1aff"/>
<circle cx="88.8" cy="575.2" r="1.95" fill="#1a1aff"/>
<circle cx="95.4" cy="575.2" r="1.95" fill="#1a1aff"/>
<circle cx="101.8" cy="575.2" r="1.95" fill="#1a1aff"/>
<circle cx="92.2" cy="579" r="1.95" fill="#1a1aff"/>
<circle cx="98.5" cy="579" r="1.95" fill="#1a1aff"/>
<circle cx="104.8" cy="579" r="1.95" fill="#1a1aff"/>
<circle cx="85.7" cy="582.1" r="1.95" fill="#1a1aff"/>
<rect x="118.15" y="573.4499999999999" width="3.7" height="3.7" fill="#ff1a1a" />
<rect x="118.15" y="576.35" width="3.7" height="3.7" fill="#ff1a1a" />
<rect x="121.65" y="576.35" width="3.7" height="3.7" fill="#ff1a1a" />
<rect x="125.15" y="576.35" width="3.7" height="3.7" fill="#ff1a1a" />
<rect x="128.65" y="576.35" width="3.7" height="3.7" fill="#ff1a1a" />
<rect x="132.15" y="576.35" width="3.7" height="3.7" fill="#ff1a1a" />
<rect x="135.65" y="576.35" width="3.7" height="3.7" fill="#ff1a1a" />
<rect x="137.15" y="576.35" width="3.7" height="3.7" fill="#ff1a1a" />
<rect x="119.15" y="577.75" width="3.7" height="3.7" fill="#ff1a1a" />
<rect x="123.15" y="577.75" width="3.7" height="3.7" fill="#ff1a1a" />
<rect x="127.15" y="577.75" width="3.7" height="3.7" fill="#ff1a1a" />
<rect x="131.15" y="577.75" width="3.7" height="3.7" fill="#ff1a1a" />
<rect x="135.15" y="577.75" width="3.7" height="3.7" fill="#ff1a1a" />
<rect x="129.55" y="575.15" width="3.7" height="3.7" fill="#ff1a1a" />
<rect x="129.55" y="580.35" width="3.7" height="3.7" fill="#ff1a1a" />
<rect x="127.35" y="589.75" width="3.7" height="3.7" fill="#ff1a1a" />
<text x="232.8" y="469.6" font-size="10.5" font-weight="bold" text-anchor="middle" fill="#000" >IL-2</text>
<line x1="199.3" y1="477.5" x2="204.3" y2="477.5" stroke="#111" stroke-width="1.2" />
<text x="197.4" y="480.5" font-size="8.5" font-weight="bold" text-anchor="end" fill="#000" >2.0</text>
<line x1="199.3" y1="505.65" x2="204.3" y2="505.65" stroke="#111" stroke-width="1.2" />
<text x="197.4" y="508.65" font-size="8.5" font-weight="bold" text-anchor="end" fill="#000" >1.5</text>
<line x1="199.3" y1="533.8" x2="204.3" y2="533.8" stroke="#111" stroke-width="1.2" />
<text x="197.4" y="536.8" font-size="8.5" font-weight="bold" text-anchor="end" fill="#000" >1.0</text>
<line x1="199.3" y1="561.95" x2="204.3" y2="561.95" stroke="#111" stroke-width="1.2" />
<text x="197.4" y="564.95" font-size="8.5" font-weight="bold" text-anchor="end" fill="#000" >0.5</text>
<line x1="199.3" y1="590.1" x2="204.3" y2="590.1" stroke="#111" stroke-width="1.2" />
<text x="197.4" y="593.1" font-size="8.5" font-weight="bold" text-anchor="end" fill="#000" >0.0</text>
<line x1="204.3" y1="476.9" x2="204.3" y2="590.7" stroke="#111" stroke-width="1.25" />
<line x1="199.3" y1="590.1" x2="284.2" y2="590.1" stroke="#222" stroke-width="1.3" />
<line x1="226.6" y1="590.1" x2="226.6" y2="595.1" stroke="#222" stroke-width="1.2" />
<line x1="261" y1="590.1" x2="261" y2="595.1" stroke="#222" stroke-width="1.2" />
<text transform="translate(179.6,533.8) rotate(-90)" font-size="10.5" font-weight="bold" text-anchor="middle" fill="#111">pg/mL</text>
<text transform="translate(229.2,602.4) rotate(-45)" font-size="8.85" font-weight="bold" text-anchor="end" fill="#111">Healthy Donor</text>
<text transform="translate(263.6,602.4) rotate(-45)" font-size="8.85" font-weight="bold" text-anchor="end" fill="#111">NSCLC</text>
<line x1="226.6" y1="555.3" x2="226.6" y2="570.2" stroke="#5555ee" stroke-width="0.9" />
<line x1="221.5" y1="555.3" x2="232.4" y2="555.3" stroke="#5555ee" stroke-width="0.9" />
<line x1="221.5" y1="570.2" x2="232.4" y2="570.2" stroke="#5555ee" stroke-width="0.9" />
<line x1="261" y1="548.3" x2="261" y2="566.4" stroke="#ee5555" stroke-width="0.9" />
<line x1="255.6" y1="548.3" x2="267.2" y2="548.3" stroke="#ee5555" stroke-width="0.9" />
<line x1="255.6" y1="566.4" x2="267.2" y2="566.4" stroke="#ee5555" stroke-width="0.9" />
<line x1="215.7" y1="562.5" x2="238.2" y2="562.5" stroke="#111" stroke-width="1.3" />
<line x1="249.8" y1="556.7" x2="272.6" y2="556.7" stroke="#111" stroke-width="1.3" />
<circle cx="226.6" cy="526.7" r="1.95" fill="#1a1aff"/>
<circle cx="226.6" cy="534.4" r="1.95" fill="#1a1aff"/>
<circle cx="218.5" cy="542.5" r="1.95" fill="#1a1aff"/>
<circle cx="222.5" cy="542.5" r="1.95" fill="#1a1aff"/>
<circle cx="226.6" cy="542.5" r="1.95" fill="#1a1aff"/>
<circle cx="230.8" cy="542.5" r="1.95" fill="#1a1aff"/>
<circle cx="235" cy="542.5" r="1.95" fill="#1a1aff"/>
<circle cx="217.3" cy="590.1" r="1.95" fill="#1a1aff"/>
<circle cx="221.26000000000002" cy="590.1" r="1.95" fill="#1a1aff"/>
<circle cx="225.22" cy="590.1" r="1.95" fill="#1a1aff"/>
<circle cx="229.18" cy="590.1" r="1.95" fill="#1a1aff"/>
<circle cx="233.14000000000001" cy="590.1" r="1.95" fill="#1a1aff"/>
<circle cx="237.10000000000002" cy="590.1" r="1.95" fill="#1a1aff"/>
<rect x="259.15" y="507.45" width="3.7" height="3.7" fill="#ff1a1a" />
<rect x="255.45000000000002" y="524.85" width="3.7" height="3.7" fill="#ff1a1a" />
<rect x="263.04999999999995" y="524.85" width="3.7" height="3.7" fill="#ff1a1a" />
<rect x="255.45000000000002" y="540.65" width="3.7" height="3.7" fill="#ff1a1a" />
<rect x="263.04999999999995" y="540.65" width="3.7" height="3.7" fill="#ff1a1a" />
<rect x="259.15" y="554.65" width="3.7" height="3.7" fill="#ff1a1a" />
<rect x="259.15" y="561.35" width="3.7" height="3.7" fill="#ff1a1a" />
<rect x="249.65" y="588.25" width="3.7" height="3.7" fill="#ff1a1a" />
<rect x="255.45000000000002" y="588.25" width="3.7" height="3.7" fill="#ff1a1a" />
<rect x="263.04999999999995" y="588.25" width="3.7" height="3.7" fill="#ff1a1a" />
<rect x="268.84999999999997" y="588.25" width="3.7" height="3.7" fill="#ff1a1a" />
<text x="357.6" y="469.6" font-size="10.5" font-weight="bold" text-anchor="middle" fill="#000" >IL-12</text>
<line x1="319.6" y1="476.5" x2="324.6" y2="476.5" stroke="#111" stroke-width="1.2" />
<text x="317.70000000000005" y="479.5" font-size="8.5" font-weight="bold" text-anchor="end" fill="#000" >4</text>
<line x1="319.6" y1="504.625" x2="324.6" y2="504.625" stroke="#111" stroke-width="1.2" />
<text x="317.70000000000005" y="507.625" font-size="8.5" font-weight="bold" text-anchor="end" fill="#000" >3</text>
<line x1="319.6" y1="532.75" x2="324.6" y2="532.75" stroke="#111" stroke-width="1.2" />
<text x="317.70000000000005" y="535.75" font-size="8.5" font-weight="bold" text-anchor="end" fill="#000" >2</text>
<line x1="319.6" y1="560.875" x2="324.6" y2="560.875" stroke="#111" stroke-width="1.2" />
<text x="317.70000000000005" y="563.875" font-size="8.5" font-weight="bold" text-anchor="end" fill="#000" >1</text>
<line x1="319.6" y1="589.0" x2="324.6" y2="589.0" stroke="#111" stroke-width="1.2" />
<text x="317.70000000000005" y="592.0" font-size="8.5" font-weight="bold" text-anchor="end" fill="#000" >0</text>
<line x1="324.6" y1="475.9" x2="324.6" y2="589.6" stroke="#111" stroke-width="1.25" />
<line x1="319.6" y1="589" x2="404.5" y2="589" stroke="#222" stroke-width="1.3" />
<line x1="347.3" y1="589" x2="347.3" y2="594" stroke="#222" stroke-width="1.2" />
<line x1="381.2" y1="589" x2="381.2" y2="594" stroke="#222" stroke-width="1.2" />
<text transform="translate(307.0,532.75) rotate(-90)" font-size="10.5" font-weight="bold" text-anchor="middle" fill="#111">pg/mL</text>
<text transform="translate(349.90000000000003,601.3) rotate(-45)" font-size="8.85" font-weight="bold" text-anchor="end" fill="#111">Healthy Donor</text>
<text transform="translate(383.8,601.3) rotate(-45)" font-size="8.85" font-weight="bold" text-anchor="end" fill="#111">NSCLC</text>
<line x1="347.3" y1="533.2" x2="347.3" y2="544.4" stroke="#5555ee" stroke-width="0.9" />
<line x1="343" y1="533.2" x2="352" y2="533.2" stroke="#5555ee" stroke-width="0.9" />
<line x1="343" y1="544.4" x2="352" y2="544.4" stroke="#5555ee" stroke-width="0.9" />
<line x1="381.2" y1="537.5" x2="381.2" y2="546" stroke="#ee5555" stroke-width="0.9" />
<line x1="375.8" y1="537.5" x2="387" y2="537.5" stroke="#ee5555" stroke-width="0.9" />
<line x1="375.8" y1="546" x2="387" y2="546" stroke="#ee5555" stroke-width="0.9" />
<line x1="336" y1="538.6" x2="359.2" y2="538.6" stroke="#111" stroke-width="1.3" />
<line x1="370.1" y1="542.2" x2="392.9" y2="542.2" stroke="#111" stroke-width="1.3" />
<circle cx="347.4" cy="487.2" r="1.95" fill="#1a1aff"/>
<circle cx="347.4" cy="511.6" r="1.95" fill="#1a1aff"/>
<circle cx="347.4" cy="523.4" r="1.95" fill="#1a1aff"/>
<circle cx="344.2" cy="534.2" r="1.95" fill="#1a1aff"/>
<circle cx="350.4" cy="534.2" r="1.95" fill="#1a1aff"/>
<circle cx="340.8" cy="545.4" r="1.95" fill="#1a1aff"/>
<circle cx="347.4" cy="545.4" r="1.95" fill="#1a1aff"/>
<circle cx="353.7" cy="545.4" r="1.95" fill="#1a1aff"/>
<circle cx="347.4" cy="550.8" r="1.95" fill="#1a1aff"/>
<circle cx="337.9" cy="555.9" r="1.95" fill="#1a1aff"/>
<circle cx="344.2" cy="555.9" r="1.95" fill="#1a1aff"/>
<circle cx="350.4" cy="555.9" r="1.95" fill="#1a1aff"/>
<circle cx="357" cy="555.9" r="1.95" fill="#1a1aff"/>
<rect x="377.45" y="509.75" width="3.7" height="3.7" fill="#ff1a1a" />
<rect x="379.54999999999995" y="509.75" width="3.7" height="3.7" fill="#ff1a1a" />
<rect x="381.65" y="509.75" width="3.7" height="3.7" fill="#ff1a1a" />
<rect x="370.04999999999995" y="543.9499999999999" width="3.7" height="3.7" fill="#ff1a1a" />
<rect x="373.04999999999995" y="543.9499999999999" width="3.7" height="3.7" fill="#ff1a1a" />
<rect x="376.04999999999995" y="543.9499999999999" width="3.7" height="3.7" fill="#ff1a1a" />
<rect x="379.04999999999995" y="543.9499999999999" width="3.7" height="3.7" fill="#ff1a1a" />
<rect x="382.04999999999995" y="543.9499999999999" width="3.7" height="3.7" fill="#ff1a1a" />
<rect x="385.04999999999995" y="543.9499999999999" width="3.7" height="3.7" fill="#ff1a1a" />
<rect x="388.04999999999995" y="543.9499999999999" width="3.7" height="3.7" fill="#ff1a1a" />
<rect x="389.25" y="543.9499999999999" width="3.7" height="3.7" fill="#ff1a1a" />
<rect x="375.34999999999997" y="554.05" width="3.7" height="3.7" fill="#ff1a1a" />
<rect x="378.15" y="554.05" width="3.7" height="3.7" fill="#ff1a1a" />
<rect x="380.65" y="554.05" width="3.7" height="3.7" fill="#ff1a1a" />
<rect x="383.34999999999997" y="554.05" width="3.7" height="3.7" fill="#ff1a1a" />
<text x="481" y="469.6" font-size="10.5" font-weight="bold" text-anchor="middle" fill="#000" >TNF-α</text>
<line x1="440.1" y1="477.5" x2="445.1" y2="477.5" stroke="#111" stroke-width="1.2" />
<text x="438.20000000000005" y="480.5" font-size="8.5" font-weight="bold" text-anchor="end" fill="#000" >40</text>
<line x1="440.1" y1="505.55" x2="445.1" y2="505.55" stroke="#111" stroke-width="1.2" />
<text x="438.20000000000005" y="508.55" font-size="8.5" font-weight="bold" text-anchor="end" fill="#000" >30</text>
<line x1="440.1" y1="533.6" x2="445.1" y2="533.6" stroke="#111" stroke-width="1.2" />
<text x="438.20000000000005" y="536.6" font-size="8.5" font-weight="bold" text-anchor="end" fill="#000" >20</text>
<line x1="440.1" y1="561.6500000000001" x2="445.1" y2="561.6500000000001" stroke="#111" stroke-width="1.2" />
<text x="438.20000000000005" y="564.6500000000001" font-size="8.5" font-weight="bold" text-anchor="end" fill="#000" >10</text>
<line x1="440.1" y1="589.7" x2="445.1" y2="589.7" stroke="#111" stroke-width="1.2" />
<text x="438.20000000000005" y="592.7" font-size="8.5" font-weight="bold" text-anchor="end" fill="#000" >0</text>
<line x1="445.1" y1="476.9" x2="445.1" y2="590.3000000000001" stroke="#111" stroke-width="1.25" />
<line x1="440.1" y1="589.7" x2="525.6" y2="589.7" stroke="#222" stroke-width="1.3" />
<line x1="468.3" y1="589.7" x2="468.3" y2="594.7" stroke="#222" stroke-width="1.2" />
<line x1="502" y1="589.7" x2="502" y2="594.7" stroke="#222" stroke-width="1.2" />
<text transform="translate(422.7,533.6) rotate(-90)" font-size="10.5" font-weight="bold" text-anchor="middle" fill="#111">pg/mL</text>
<text transform="translate(470.90000000000003,602.0) rotate(-45)" font-size="8.85" font-weight="bold" text-anchor="end" fill="#111">Healthy Donor</text>
<text transform="translate(504.6,602.0) rotate(-45)" font-size="8.85" font-weight="bold" text-anchor="end" fill="#111">NSCLC</text>
<line x1="468.3" y1="565.5" x2="468.3" y2="572.3" stroke="#5555ee" stroke-width="0.9" />
<line x1="463" y1="565.5" x2="473.6" y2="565.5" stroke="#5555ee" stroke-width="0.9" />
<line x1="463" y1="572.3" x2="473.6" y2="572.3" stroke="#5555ee" stroke-width="0.9" />
<line x1="502" y1="552.5" x2="502" y2="568" stroke="#ee5555" stroke-width="0.9" />
<line x1="496.6" y1="552.5" x2="507.8" y2="552.5" stroke="#ee5555" stroke-width="0.9" />
<line x1="496.6" y1="568" x2="507.8" y2="568" stroke="#ee5555" stroke-width="0.9" />
<line x1="456.7" y1="568.8" x2="479.9" y2="568.8" stroke="#111" stroke-width="1.3" />
<line x1="490.8" y1="560" x2="513.6" y2="560" stroke="#111" stroke-width="1.3" />
<circle cx="468.2" cy="544.4" r="1.95" fill="#1a1aff"/>
<circle cx="468.2" cy="551.9" r="1.95" fill="#1a1aff"/>
<circle cx="461.1" cy="560" r="1.95" fill="#1a1aff"/>
<circle cx="468.2" cy="562" r="1.95" fill="#1a1aff"/>
<circle cx="461.1" cy="568.5" r="1.95" fill="#1a1aff"/>
<circle cx="468.2" cy="568.5" r="1.95" fill="#1a1aff"/>
<circle cx="475.5" cy="568.5" r="1.95" fill="#1a1aff"/>
<circle cx="461.1" cy="573.6" r="1.95" fill="#1a1aff"/>
<circle cx="468.2" cy="573.6" r="1.95" fill="#1a1aff"/>
<circle cx="475.5" cy="577" r="1.95" fill="#1a1aff"/>
<circle cx="468.2" cy="578.4" r="1.95" fill="#1a1aff"/>
<circle cx="464.5" cy="584.2" r="1.95" fill="#1a1aff"/>
<circle cx="471.8" cy="582.7" r="1.95" fill="#1a1aff"/>
<rect x="500.45" y="488.34999999999997" width="3.7" height="3.7" fill="#ff1a1a" />
<rect x="495.84999999999997" y="548.75" width="3.7" height="3.7" fill="#ff1a1a" />
<rect x="500.45" y="551.65" width="3.7" height="3.7" fill="#ff1a1a" />
<rect x="490.75" y="564.4499999999999" width="3.7" height="3.7" fill="#ff1a1a" />
<rect x="495.84999999999997" y="563.65" width="3.7" height="3.7" fill="#ff1a1a" />
<rect x="500.45" y="565.35" width="3.7" height="3.7" fill="#ff1a1a" />
<rect x="505.15" y="565.35" width="3.7" height="3.7" fill="#ff1a1a" />
<rect x="509.95" y="563.65" width="3.7" height="3.7" fill="#ff1a1a" />
<rect x="498.04999999999995" y="572.65" width="3.7" height="3.7" fill="#ff1a1a" />
<rect x="502.95" y="573.15" width="3.7" height="3.7" fill="#ff1a1a" />
<rect x="500.45" y="581.4499999999999" width="3.7" height="3.7" fill="#ff1a1a" />
<text x="612.3" y="469.6" font-size="10.5" font-weight="bold" text-anchor="middle" fill="#000" >IFN-γ</text>
<line x1="572.5" y1="477.5" x2="577.5" y2="477.5" stroke="#111" stroke-width="1.2" />
<text x="570.6" y="480.5" font-size="8.5" font-weight="bold" text-anchor="end" fill="#000" >15</text>
<line x1="572.5" y1="515.0" x2="577.5" y2="515.0" stroke="#111" stroke-width="1.2" />
<text x="570.6" y="518.0" font-size="8.5" font-weight="bold" text-anchor="end" fill="#000" >10</text>
<line x1="572.5" y1="552.5" x2="577.5" y2="552.5" stroke="#111" stroke-width="1.2" />
<text x="570.6" y="555.5" font-size="8.5" font-weight="bold" text-anchor="end" fill="#000" >5</text>
<line x1="572.5" y1="590.0" x2="577.5" y2="590.0" stroke="#111" stroke-width="1.2" />
<text x="570.6" y="593.0" font-size="8.5" font-weight="bold" text-anchor="end" fill="#000" >0</text>
<line x1="577.5" y1="476.9" x2="577.5" y2="590.6" stroke="#111" stroke-width="1.25" />
<line x1="572.5" y1="590" x2="658" y2="590" stroke="#222" stroke-width="1.3" />
<line x1="600.3" y1="590" x2="600.3" y2="595" stroke="#222" stroke-width="1.2" />
<line x1="634.9" y1="590" x2="634.9" y2="595" stroke="#222" stroke-width="1.2" />
<text transform="translate(555.1,533.75) rotate(-90)" font-size="10.5" font-weight="bold" text-anchor="middle" fill="#111">pg/mL</text>
<text transform="translate(602.9,602.3) rotate(-45)" font-size="8.85" font-weight="bold" text-anchor="end" fill="#111">Healthy Donor</text>
<text transform="translate(637.5,602.3) rotate(-45)" font-size="8.85" font-weight="bold" text-anchor="end" fill="#111">NSCLC</text>
<line x1="600.3" y1="569.1" x2="600.3" y2="579" stroke="#5555ee" stroke-width="0.9" />
<line x1="594.7" y1="569.1" x2="606.2" y2="569.1" stroke="#5555ee" stroke-width="0.9" />
<line x1="594.7" y1="579" x2="606.2" y2="579" stroke="#5555ee" stroke-width="0.9" />
<line x1="589.1" y1="574.3" x2="611.6" y2="574.3" stroke="#111" stroke-width="1.3" />
<line x1="623.1" y1="579.9" x2="645.7" y2="579.9" stroke="#111" stroke-width="1.3" />
<circle cx="600.3" cy="513.7" r="1.95" fill="#1a1aff"/>
<circle cx="599.1" cy="571.3" r="1.95" fill="#1a1aff"/>
<circle cx="601.8" cy="571.3" r="1.95" fill="#1a1aff"/>
<circle cx="590.6" cy="577.9" r="1.95" fill="#1a1aff"/>
<circle cx="599.1" cy="577.9" r="1.95" fill="#1a1aff"/>
<circle cx="593.2" cy="580.6" r="1.95" fill="#1a1aff"/>
<circle cx="596.2" cy="580.6" r="1.95" fill="#1a1aff"/>
<circle cx="599.1" cy="581.6" r="1.95" fill="#1a1aff"/>
<circle cx="602.1" cy="580.6" r="1.95" fill="#1a1aff"/>
<circle cx="605" cy="580.6" r="1.95" fill="#1a1aff"/>
<circle cx="607.9" cy="580.6" r="1.95" fill="#1a1aff"/>
<circle cx="610.6" cy="580.6" r="1.95" fill="#1a1aff"/>
<circle cx="600.3" cy="590" r="1.95" fill="#1a1aff"/>
<rect x="632.55" y="566.15" width="3.7" height="3.7" fill="#ff1a1a" />
<rect x="638.15" y="572.85" width="3.7" height="3.7" fill="#ff1a1a" />
<rect x="623.05" y="576.05" width="3.7" height="3.7" fill="#ff1a1a" />
<rect x="627.4499999999999" y="579.05" width="3.7" height="3.7" fill="#ff1a1a" />
<rect x="630.35" y="576.05" width="3.7" height="3.7" fill="#ff1a1a" />
<rect x="633.35" y="576.05" width="3.7" height="3.7" fill="#ff1a1a" />
<rect x="634.75" y="580.15" width="3.7" height="3.7" fill="#ff1a1a" />
<rect x="638.15" y="579.05" width="3.7" height="3.7" fill="#ff1a1a" />
<rect x="642.15" y="576.05" width="3.7" height="3.7" fill="#ff1a1a" />
<rect x="630.35" y="588.15" width="3.7" height="3.7" fill="#ff1a1a" />
<rect x="632.55" y="588.15" width="3.7" height="3.7" fill="#ff1a1a" />
<rect x="634.75" y="588.15" width="3.7" height="3.7" fill="#ff1a1a" />
<line x1="89.8" y1="303.5" x2="132.4" y2="303.5" stroke="#111" stroke-width="1.0" />
<text x="110.5" y="304.3" font-size="10.5" font-weight="normal" text-anchor="middle" fill="#333" >**</text>
</svg></body></html>
